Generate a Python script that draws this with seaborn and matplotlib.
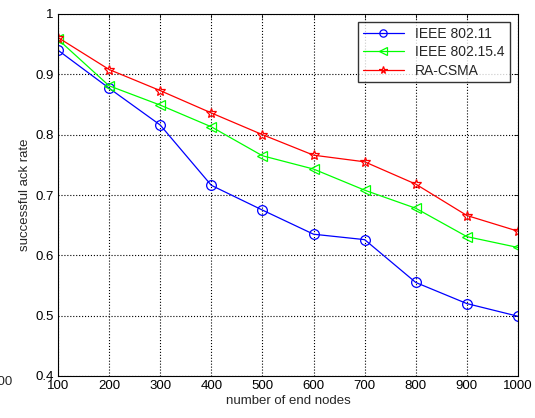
import numpy as np
import pandas as pd
import seaborn as sns
import matplotlib
matplotlib.use("Agg")
import matplotlib.pyplot as plt

# values
nodes = [100, 200, 300, 400, 500, 600, 700, 800, 900, 1000]
ieee_80211 = [0.940, 0.877, 0.816, 0.716, 0.675, 0.635, 0.626, 0.555, 0.520, 0.499]
ieee_802154 = [0.958, 0.881, 0.849, 0.813, 0.765, 0.743, 0.708, 0.678, 0.631, 0.613]
ra_csma = [0.961, 0.908, 0.873, 0.836, 0.800, 0.766, 0.755, 0.718, 0.666, 0.640]
series_names = ["IEEE 802.11", "IEEE 802.15.4", "RA-CSMA"]
y_ticks = [0.4, 0.5, 0.6, 0.7, 0.8, 0.9, 1.0]
y_tick_labels = ["0.4", "0.5", "0.6", "0.7", "0.8", "0.9", "1"]

sns.set_theme(style="white")
plt.rcParams["font.family"] = ["Liberation Sans", "DejaVu Sans"]

frames = []
for name, vals in zip(series_names, [ieee_80211, ieee_802154, ra_csma]):
    frames.append(pd.DataFrame({"nodes": nodes, "rate": vals, "protocol": name}))
data = pd.concat(frames, ignore_index=True)

fig = plt.figure(figsize=(5.35, 4.18), dpi=100)
ax = fig.add_axes([58 / 535, 42 / 418, 460 / 535, 362 / 418])

colors = {"IEEE 802.11": "#0000ff", "IEEE 802.15.4": "#00ff00", "RA-CSMA": "#ff0000"}
markers = {"IEEE 802.11": "o", "IEEE 802.15.4": "<", "RA-CSMA": "*"}
msizes = {"IEEE 802.11": 7, "IEEE 802.15.4": 7.5, "RA-CSMA": 7.5}

for name in series_names:
    sub = data[data["protocol"] == name]
    sns.lineplot(data=sub, x="nodes", y="rate", ax=ax, color=colors[name],
                 marker=markers[name], markersize=msizes[name],
                 markerfacecolor="none", markeredgecolor=colors[name],
                 markeredgewidth=0.9, linewidth=0.9, label=name)

ax.set_xlim(100, 1000)
ax.set_ylim(0.4, 1.0)
ax.set_xticks(nodes)
ax.set_yticks(y_ticks)
ax.set_yticklabels(y_tick_labels)
ax.grid(True, color="black", linestyle=":", linewidth=0.8)
for s in ax.spines.values():
    s.set_color("black")
    s.set_linewidth(0.8)
ax.tick_params(direction="in", length=3, width=0.6, top=True, right=True,
               labelsize=9.5, colors="black", pad=3)
ax.set_xlabel("number of end nodes", fontsize=9.5, labelpad=2)
ax.set_ylabel("successful ack rate", fontsize=9.5, labelpad=3)

leg = ax.legend(loc="upper right", fontsize=10, frameon=True, fancybox=False,
                edgecolor="black", borderaxespad=0.6, handlelength=3.0,
                labelspacing=0.3, borderpad=0.35, markerscale=0.75)
leg.get_frame().set_linewidth(1.0)

# stray clipped tick label at the left edge of the original figure
fig.text(13 / 535, 1 - 382 / 418, "100", ha="right", va="center", fontsize=9.5)

fig.savefig("out.png", dpi=100, facecolor="white")
